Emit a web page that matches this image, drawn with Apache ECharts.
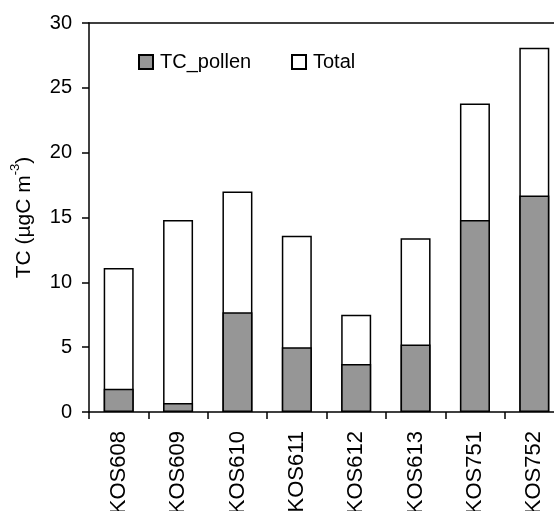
<!DOCTYPE html>
<html>
<head>
<meta charset="utf-8">
<script src="https://cdn.jsdelivr.net/npm/echarts@6/dist/echarts.min.js"></script>
<style>html,body{margin:0;padding:0;background:#fff;overflow:hidden;width:554px;height:511px;}#c{width:564px;height:511px;}</style>
</head>
<body>
<div id="c"></div>
<script>
var categories = ['KOS608','KOS609','KOS610','KOS611','KOS612','KOS613','KOS751','KOS752'];
var totalValues = [11.1, 14.8, 17.0, 13.6, 7.5, 13.4, 23.8, 28.1];
var pollenValues = [1.8, 0.7, 7.7, 5.0, 3.7, 5.2, 14.8, 16.7];
var yTicks = [0, 5, 10, 15, 20, 25, 30];

var FONT = 'Liberation Sans, Arial, sans-serif';
var chart = echarts.init(document.getElementById('c'), null, {renderer: 'canvas'});
chart.setOption({
  animation: false,
  backgroundColor: '#fff',
  textStyle: {fontFamily: FONT, color: '#000'},
  grid: {left: 89, top: 23, bottom: 99, right: 0, containLabel: false, outerBoundsMode: 'none'},
  legend: [
    {data: ['TC_pollen'], left: 133, top: 47, icon: 'rect', itemWidth: 14, itemHeight: 14, itemGap: 5,
     textStyle: {fontFamily: FONT, fontSize: 20, color: '#000', padding: [0, 0, 0, 2]}},
    {data: ['Total'], left: 286, top: 47, icon: 'rect', itemWidth: 14, itemHeight: 14, itemGap: 5,
     textStyle: {fontFamily: FONT, fontSize: 20, color: '#000', padding: [0, 0, 0, 2]}}
  ],
  xAxis: [{
    type: 'category',
    data: categories,
    axisLine: {lineStyle: {color: '#000', width: 1.5}},
    axisTick: {show: true, length: 7, inside: false, alignWithLabel: false, lineStyle: {color: '#000', width: 1.5}},
    axisLabel: {rotate: 90, margin: 19, color: '#000', fontSize: 22, fontFamily: FONT, interval: 0}
  }, {
    type: 'category',
    position: 'top',
    data: categories,
    axisLine: {show: true, lineStyle: {color: '#000', width: 1.5}},
    axisTick: {show: false},
    axisLabel: {show: false}
  }],
  yAxis: {
    type: 'value',
    min: 0, max: 30, interval: 5,
    axisLine: {show: true, lineStyle: {color: '#000', width: 1.5}},
    axisTick: {show: true, length: 7, lineStyle: {color: '#000', width: 1.5}},
    splitLine: {show: false},
    axisLabel: {margin: 17, color: '#000', fontSize: 20, fontFamily: FONT,
      formatter: function (v) { return yTicks.indexOf(v) >= 0 ? String(v) : ''; }},
    name: '{n|TC (µgC m}{s|-3}{n|)}',
    nameLocation: 'middle',
    nameRotate: 90,
    nameGap: 54,
    nameTextStyle: {
      fontFamily: FONT, color: '#000',
      rich: {
        n: {fontSize: 21, fontFamily: FONT, color: '#000', lineHeight: 26, verticalAlign: 'bottom'},
        s: {fontSize: 13, fontFamily: FONT, color: '#000', lineHeight: 26, verticalAlign: 'top'}
      }
    }
  },
  series: [
    {
      name: 'Total', type: 'bar', data: totalValues, barWidth: 30, barGap: '-100%',
      itemStyle: {color: '#ffffff', borderColor: '#000', borderWidth: 1.5}
    },
    {
      name: 'TC_pollen', type: 'bar', data: pollenValues, barWidth: 30, barGap: '-100%',
      itemStyle: {color: '#969696', borderColor: '#000', borderWidth: 1.5}
    }
  ]
});
</script>
</body>
</html>
